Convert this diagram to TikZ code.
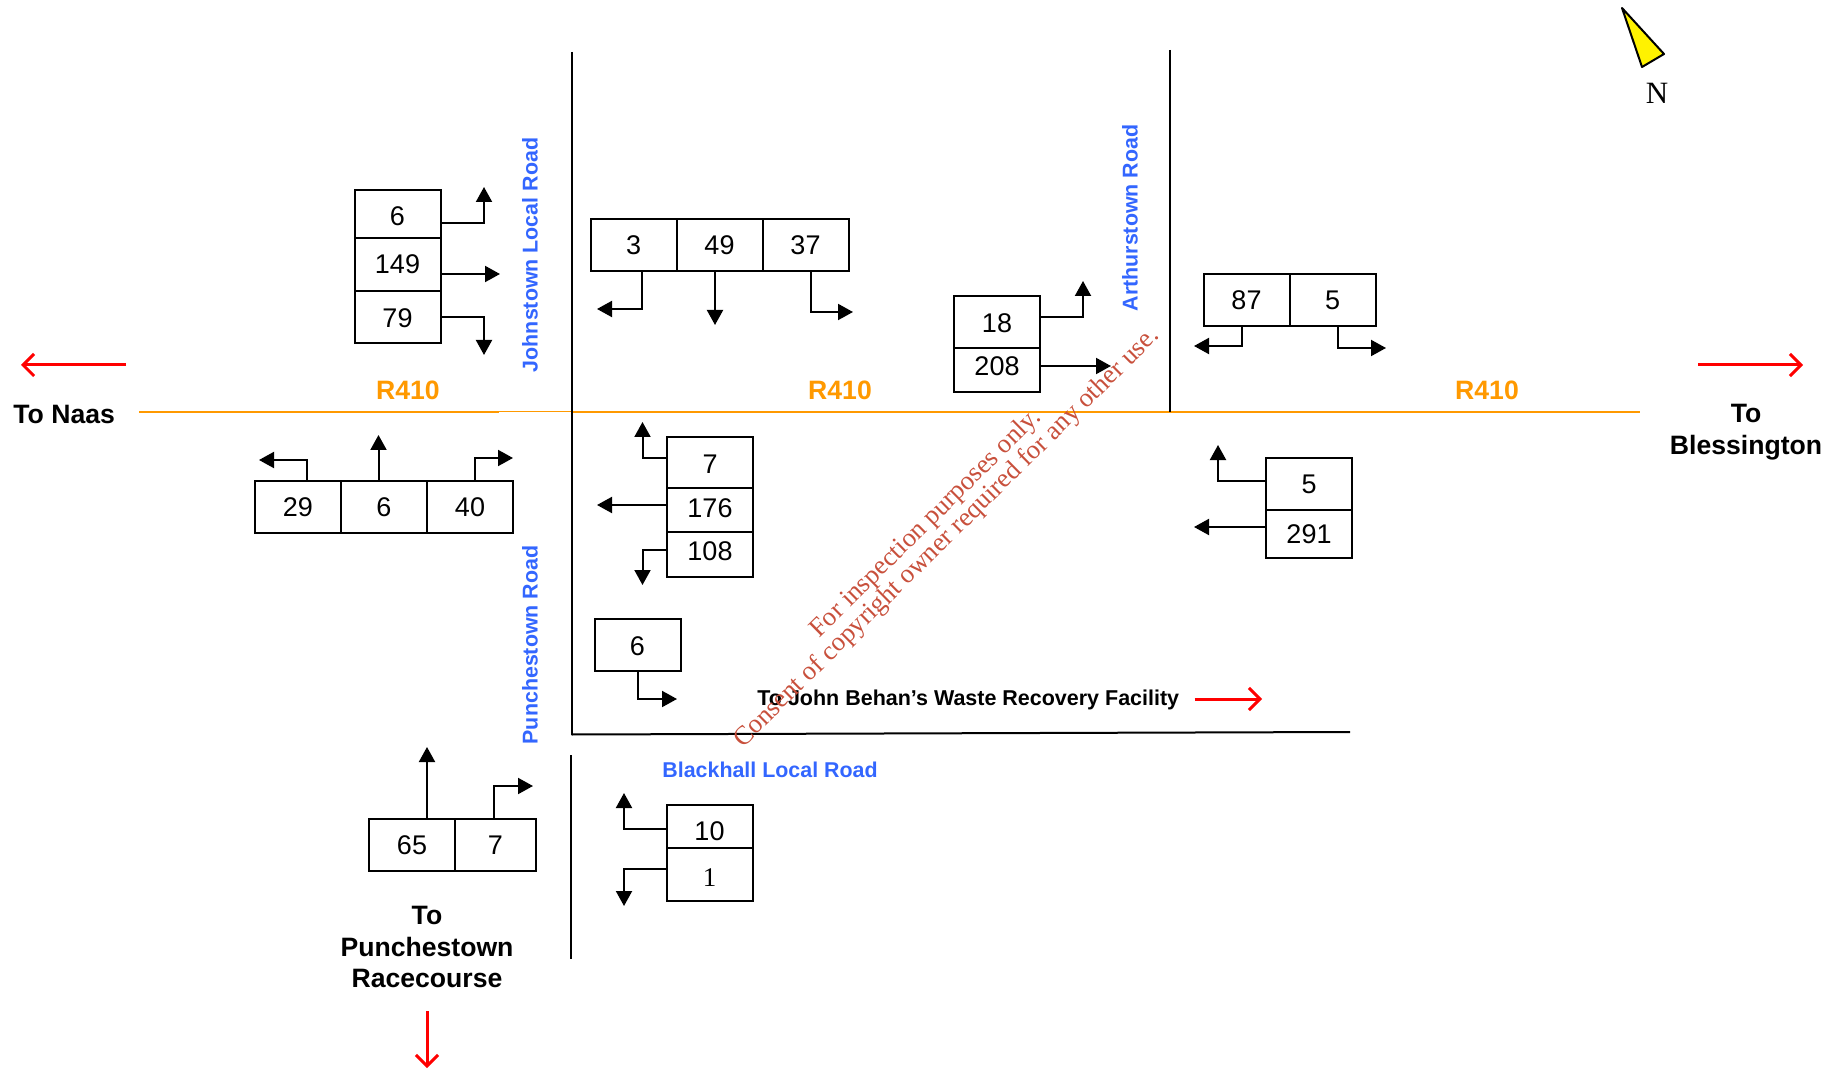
\documentclass[tikz,border=0pt]{standalone}
\usepackage{fontspec}
\setmainfont{Liberation Sans}
\newfontfamily\wmfont{Liberation Serif}
\usetikzlibrary{positioning,arrows.meta}
\definecolor{roadblue}{HTML}{3366FF}
\definecolor{roadorange}{HTML}{FF9900}
\definecolor{wmred}{HTML}{C8503C}

\begin{document}
\begin{tikzpicture}[
  x=0.5pt,y=-0.5pt,
  cell/.style={draw,line width=1pt,inner sep=0pt,outer sep=0pt,minimum width=43pt,minimum height=26pt,font=\fontsize{13.5}{16}\selectfont},
  road/.style={line width=1pt},
  mainroad/.style={roadorange,line width=1.3pt},
  flow/.style={line width=1pt,-{Triangle[length=7.5pt,width=8pt]}},
  heading/.style={red,line width=1.5pt,-{Straight Barb[length=5.5pt,width=11pt]}},
  place/.style={font=\bfseries\fontsize{13.3}{15.75}\selectfont,align=center,inner sep=0pt},
  roadname/.style={roadblue,font=\bfseries\fontsize{10.7}{12}\selectfont,inner sep=0pt},
  routename/.style={roadorange,font=\bfseries\fontsize{13.3}{15}\selectfont,anchor=base,inner sep=0pt},
  watermark/.style={wmred,rotate=44.6,inner sep=0pt,font=\wmfont\fontsize{13.3}{15}\selectfont}
]
\useasboundingbox (0,0) rectangle (1836,1069);

% roads
\coordinate (naas) at (139,412);
\coordinate (thin1) at (499,412);
\coordinate (thin2) at (571.5,412);
\coordinate (blessington) at (1640,412);
\coordinate (johnstop) at (571.5,52);
\coordinate (punchend) at (571.5,734.5);
\coordinate (lowstart) at (571,755);
\coordinate (lowend) at (571,959);
\coordinate (arthtop) at (1170,50);
\coordinate (arthend) at (1170,412);
\coordinate (blackend) at (1350,732);
\draw[mainroad] (naas) -- (thin1);
\draw[roadorange,line width=0.5pt] (thin1) -- (thin2);
\draw[mainroad] (thin2) -- (blessington);
\draw[road] (johnstop) -- (punchend);
\draw[road] (lowstart) -- (lowend);
\draw[road] (arthtop) -- (arthend);
\draw[road] (punchend) -- (blackend);

% road labels
\node[routename] (r1) at (408,400) {R410};
\node[routename] (r2) at (840,400) {R410};
\node[routename] (r3) at (1487,400) {R410};
\node[roadname,rotate=90] (johns) at (530,255) {Johnstown Local Road};
\node[roadname,rotate=90] (punch) at (530,645) {Punchestown Road};
\node[roadname,rotate=90] (arth) at (1130,218) {Arthurstown Road};
\node[roadname,anchor=base west] (black) at (662,777) {Blackhall Local Road};

% destinations
\node[place,anchor=base west] (tonaas) at (13,423) {To Naas};
\node[place] (tobless) at (1746,432) {To\\Blessington};
\node[place] (toracecourse) at (427,947) {To\\Punchestown\\Racecourse};
\node[anchor=base west,inner sep=0pt,font=\bfseries\fontsize{10.74}{12}\selectfont] (tofacility) at (757,705) {To John Behan’s Waste Recovery Facility};
\coordinate (naasa) at (126,365);
\coordinate (naasb) at (21,365);
\coordinate (blessa) at (1698,365);
\coordinate (blessb) at (1803,365);
\coordinate (raceb) at (427,1068);
\coordinate (racea) at (427,1011);
\coordinate (facb) at (1262,699);
\draw[heading] (naasa) -- (naasb);
\draw[heading] (blessa) -- (blessb);
\draw[heading] (racea) -- (raceb);
\draw[heading] (tofacility.east |- facb) ++(15,0) -- (facb);

% north point
\draw[line width=1pt,fill=yellow,line join=round] (1622,8) -- (1664,54) -- (1642,67) -- cycle;
\node[inner sep=0pt,font=\wmfont\fontsize{15.5}{18}\selectfont,anchor=base] (north) at (1657,104) {N};

% north west arm
\node[cell,minimum height=24pt,text height=12pt] (nwa) at (397.5,214) {6};
\node[cell,minimum height=26.5pt,below=0pt of nwa] (nwb) {149};
\node[cell,below=0pt of nwb,text height=11pt] (nwc) {79};
\coordinate (nwat) at (484,187);
\coordinate (nwbt) at (500,274);
\coordinate (nwct) at (484,355);
\draw[flow] (nwa.east |- 0,223) -| (nwat);
\draw[flow] (nwb.east |- nwbt) -- (nwbt);
\draw[flow] (nwc.east |- 0,317) -| (nwct);

% north middle
\node[cell] (nma) at (633.5,245.5) {3};
\node[cell,right=0pt of nma] (nmb) {49};
\node[cell,right=0pt of nmb] (nmc) {37};
\coordinate (nmat) at (597,309);
\coordinate (nmbt) at (715,325);
\coordinate (nmct) at (853,312);
\draw[flow] (642,272) |- (nmat);
\draw[flow] (nmb.south -| nmbt) -- (nmbt);
\draw[flow] (811,272) |- (nmct);

% arthurstown west
\node[cell,text height=11pt] (awa) at (997,322) {18};
\node[cell,minimum height=22pt,below=0pt of awa,text depth=3.5pt] (awb) {208};
\coordinate (awat) at (1083,281);
\coordinate (awbt) at (1111,366);
\draw[flow] (awa.east |- 0,317) -| (awat);
\draw[flow] (awb.east |- awbt) -- (awbt);

% arthurstown east
\node[cell] (aea) at (1246.5,300) {87};
\node[cell,right=0pt of aea] (aeb) {5};
\coordinate (aeat) at (1194,346);
\coordinate (aebt) at (1386,348);
\draw[flow] (1242,326) |- (aeat);
\draw[flow] (1338,326) |- (aebt);

% south west arm
\node[cell] (swa) at (298,507) {29};
\node[cell,right=0pt of swa] (swb) {6};
\node[cell,right=0pt of swb] (swc) {40};
\coordinate (swat) at (259,460);
\coordinate (swbt) at (378.5,435);
\coordinate (swct) at (513,458);
\draw[flow] (307,481) |- (swat);
\draw[flow] (swb.north -| swbt) -- (swbt);
\draw[flow] (475,481) |- (swct);

% south east of junction
\node[cell,minimum height=25.5pt,text height=11pt] (sea) at (710,462.5) {7};
\node[cell,minimum height=22pt,below=0pt of sea,text depth=2.3pt] (seb) {176};
\node[cell,minimum height=22.5pt,below=0pt of seb,text depth=3.5pt] (sec) {108};
\coordinate (seat) at (642.5,422);
\coordinate (sebt) at (597,505);
\coordinate (sect) at (642.5,585);
\draw[flow] (sea.west |- 0,458) -| (seat);
\draw[flow] (seb.west |- sebt) -- (sebt);
\draw[flow] (sec.west |- 0,550) -| (sect);

% lone box
\node[cell,text height=11pt] (lone) at (637.5,644.5) {6};
\coordinate (lonet) at (677,699);
\draw[flow] (638,670) |- (lonet);

% east of arthurstown
\node[cell] (eaa) at (1309,484) {5};
\node[cell,minimum height=24pt,below=0pt of eaa] (eab) {291};
\coordinate (eaat) at (1218,445);
\coordinate (eabt) at (1194,527);
\draw[flow] (eaa.west |- 0,481) -| (eaat);
\draw[flow] (eab.west |- eabt) -- (eabt);

% south arm
\node[cell] (saa) at (412,845) {65};
\node[cell,minimum width=40.5pt,right=0pt of saa] (sab) {7};
\coordinate (saat) at (427,747);
\coordinate (sabt) at (533,786);
\draw[flow] (saa.north -| saat) -- (saat);
\draw[flow] (494,819) |- (sabt);

% blackhall
\node[cell,minimum height=21.5pt,text height=14.3pt] (bha) at (709.5,826.5) {10};
\node[cell,minimum height=26.5pt,below=0pt of bha,text height=11.5pt,font=\wmfont\fontsize{13.5}{16}\selectfont] (bhb) {1};
\coordinate (bhat) at (624,793);
\coordinate (bhbt) at (624,906);
\draw[flow] (bha.west |- 0,829) -| (bhat);
\draw[flow] (bhb.west |- 0,869) -| (bhbt);

% stamp across the drawing
\node[watermark] (wma) at (926,524) {For inspection purposes only.};
\node[watermark] (wmb) at (947,538) {Consent of copyright owner required for any other use.};
\end{tikzpicture}
\end{document}
